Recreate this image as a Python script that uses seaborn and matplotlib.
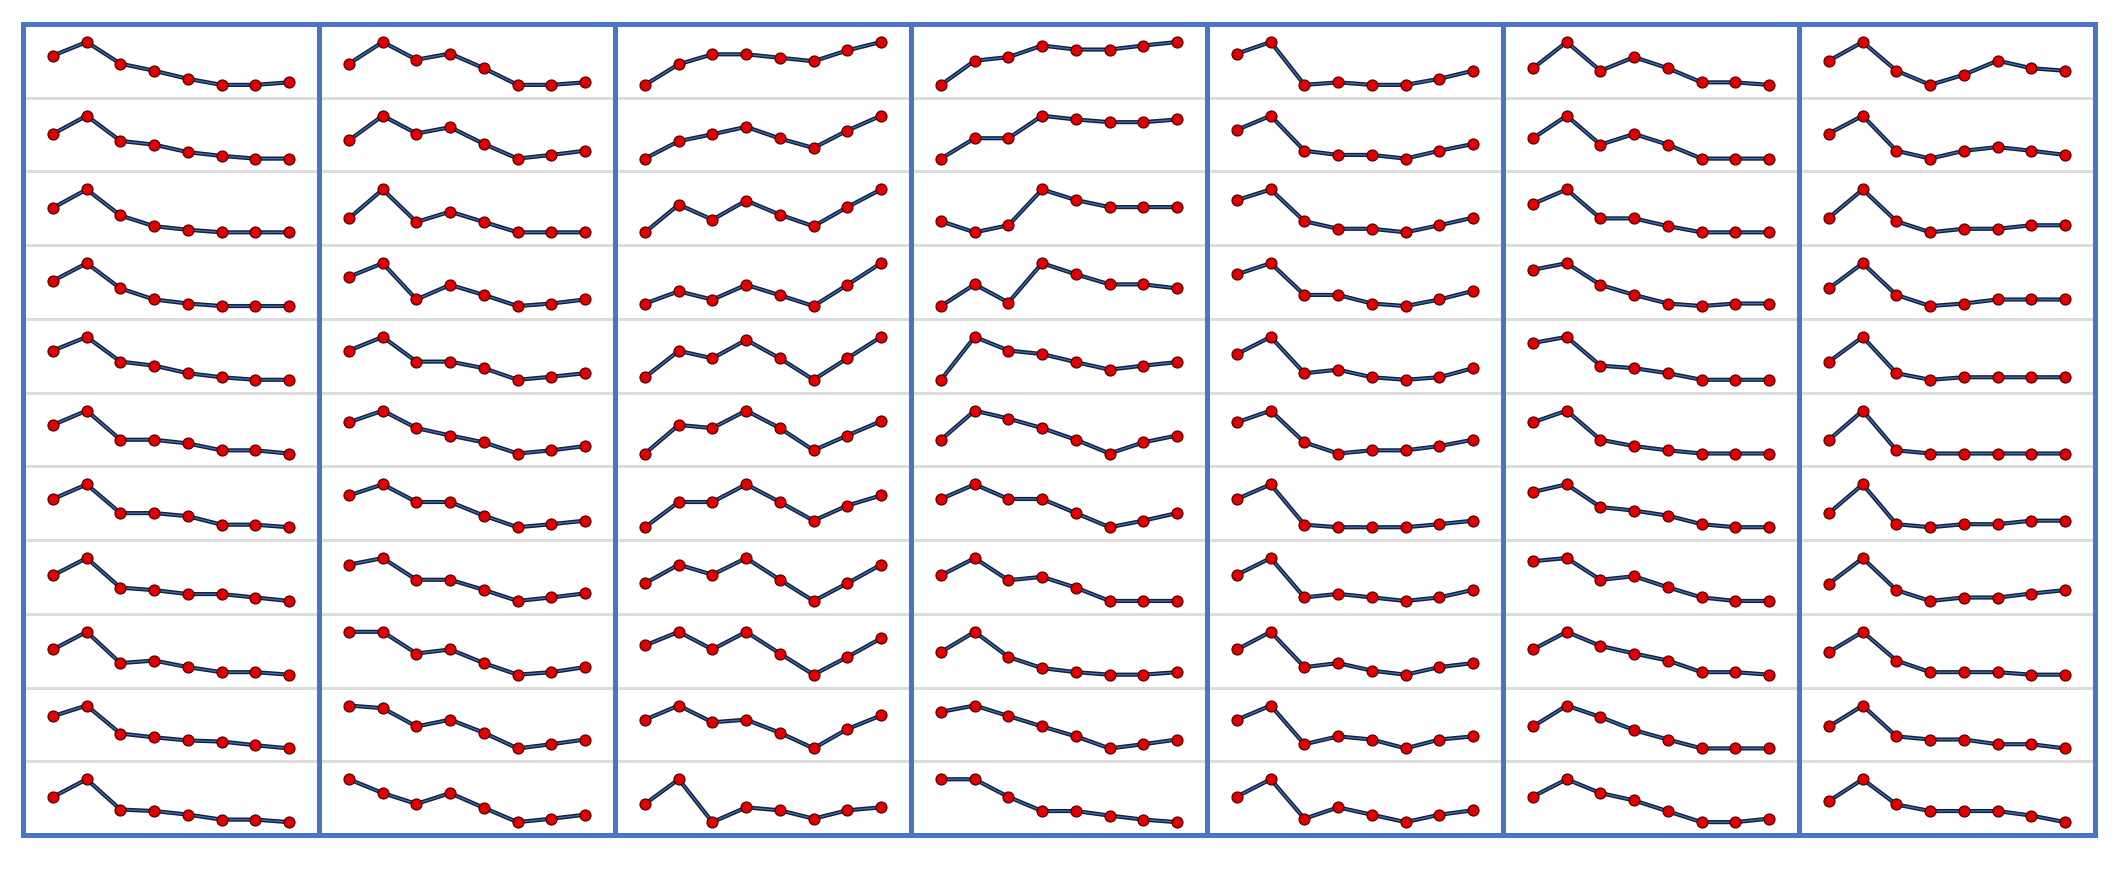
import matplotlib.pyplot as plt
import seaborn as sns

sns.set_theme(style='white')

# ── Data: 7 panels x 11 sparklines x 8 points (relative values) ───────────────
months = [0, 1, 2, 3, 4, 5, 6, 7]

col1 = [
    [58, 85, 42, 28, 12, 0, 0, 5],
    [46, 80, 33, 26, 12, 5, 0, 0],
    [48, 84, 33, 12, 5, 0, 0, 0],
    [50, 85, 35, 13, 5, 0, 0, 0],
    [58, 85, 36, 28, 13, 5, 0, 0],
    [54, 81, 26, 26, 19, 6, 6, 0],
    [56, 85, 28, 28, 22, 5, 5, 0],
    [52, 87, 27, 22, 14, 14, 7, 0],
    [50, 85, 23, 28, 15, 5, 5, 0],
    [61, 81, 28, 21, 15, 13, 6, 0],
    [50, 85, 25, 22, 15, 5, 5, 0],
]
col2 = [
    [42, 85, 50, 62, 33, 0, 0, 5],
    [35, 82, 48, 60, 28, 0, 7, 15],
    [27, 83, 20, 40, 20, 0, 0, 0],
    [58, 85, 13, 42, 22, 0, 5, 13],
    [58, 85, 36, 36, 23, 0, 6, 13],
    [59, 81, 48, 34, 21, 0, 6, 14],
    [63, 85, 50, 50, 23, 0, 6, 13],
    [72, 85, 42, 42, 22, 0, 7, 15],
    [85, 85, 42, 50, 23, 0, 5, 15],
    [82, 77, 42, 55, 30, 0, 8, 17],
    [87, 59, 37, 59, 29, 0, 7, 15],
]
col3 = [
    [0, 42, 62, 62, 55, 48, 70, 87],
    [0, 33, 46, 60, 38, 20, 53, 81],
    [0, 55, 25, 63, 35, 12, 50, 85],
    [5, 30, 13, 43, 22, 0, 43, 87],
    [5, 58, 43, 80, 43, 0, 43, 86],
    [0, 54, 48, 81, 48, 6, 34, 61],
    [0, 50, 50, 85, 50, 13, 43, 63],
    [35, 72, 52, 85, 42, 0, 35, 72],
    [58, 85, 50, 85, 42, 0, 35, 72],
    [55, 82, 50, 55, 30, 0, 37, 63],
    [37, 87, 0, 30, 24, 7, 24, 30],
]
col4 = [
    [0, 48, 55, 78, 70, 70, 78, 85],
    [0, 38, 38, 80, 73, 68, 68, 73],
    [22, 0, 14, 85, 64, 50, 50, 50],
    [0, 43, 7, 85, 63, 43, 43, 35],
    [0, 85, 58, 51, 35, 20, 28, 35],
    [26, 81, 66, 48, 26, 0, 21, 34],
    [56, 85, 56, 56, 28, 0, 13, 28],
    [52, 87, 42, 49, 27, 0, 0, 0],
    [45, 85, 35, 13, 5, 0, 0, 5],
    [70, 82, 62, 42, 23, 0, 8, 17],
    [85, 85, 50, 22, 22, 13, 5, 0],
]
col5 = [
    [62, 85, 0, 5, 0, 0, 12, 28],
    [55, 82, 15, 7, 7, 0, 15, 28],
    [64, 85, 22, 7, 7, 0, 14, 29],
    [63, 85, 22, 22, 5, 0, 13, 30],
    [51, 85, 13, 20, 5, 0, 5, 23],
    [59, 81, 21, 0, 6, 6, 14, 26],
    [56, 85, 5, 0, 0, 0, 6, 13],
    [52, 85, 7, 14, 7, 0, 7, 22],
    [50, 85, 15, 23, 8, 0, 15, 23],
    [55, 82, 8, 23, 17, 0, 17, 23],
    [52, 87, 7, 30, 15, 0, 15, 24],
]
col6 = [
    [33, 85, 28, 55, 33, 5, 5, 0],
    [38, 80, 26, 46, 26, 0, 0, 0],
    [55, 83, 27, 27, 12, 0, 0, 0],
    [72, 85, 42, 22, 5, 0, 5, 5],
    [73, 85, 28, 23, 13, 0, 0, 0],
    [59, 81, 26, 14, 6, 0, 0, 0],
    [70, 85, 40, 33, 23, 6, 0, 0],
    [79, 85, 42, 49, 27, 7, 0, 0],
    [50, 85, 57, 42, 28, 5, 5, 0],
    [42, 82, 60, 35, 17, 0, 0, 0],
    [52, 87, 59, 44, 22, 0, 0, 7],
]
col7 = [
    [48, 85, 28, 0, 20, 48, 33, 28],
    [48, 82, 15, 0, 15, 22, 15, 7],
    [29, 85, 22, 0, 7, 7, 14, 14],
    [35, 85, 22, 0, 5, 13, 13, 13],
    [36, 85, 13, 0, 5, 5, 5, 5],
    [26, 81, 6, 0, 0, 0, 0, 0],
    [28, 85, 6, 0, 6, 6, 13, 13],
    [35, 87, 22, 0, 7, 7, 15, 22],
    [45, 85, 28, 5, 5, 5, 0, 0],
    [42, 82, 23, 17, 17, 8, 8, 0],
    [42, 85, 35, 22, 22, 22, 13, 0],
]
columns = [col1, col2, col3, col4, col5, col6, col7]

# ── Style ─────────────────────────────────────────────────────────────────────
BORDER = '#4a74c8'
LINE_DARK = '#14203a'
LINE_BLUE = '#3f6fbf'
MARKER = '#e10000'
SEP = '#dcdcdc'

W, H = 2120, 873
fig = plt.figure(figsize=(W / 100, H / 100), dpi=100)
fig.patch.set_facecolor('white')

left, right, top, bottom = 23, 2095, 24, 835
col_w = (right - left) / 7
row_h = (bottom - top) / 11

for c, col in enumerate(columns):
    x0 = left + c * col_w
    for r, vals in enumerate(col):
        y0 = top + r * row_h
        ax = fig.add_axes([x0 / W, 1 - (y0 + row_h) / H, col_w / W, row_h / H])
        sns.lineplot(x=months, y=vals, ax=ax, color=LINE_DARK, lw=3.0)
        sns.lineplot(x=months, y=vals, ax=ax, color=LINE_BLUE, lw=0.9)
        sns.scatterplot(x=months, y=vals, ax=ax, color=MARKER, s=62,
                        edgecolor='#5a0000', linewidth=0.9, zorder=3)
        lo, hi = min(vals), max(vals)
        span = hi - lo
        ax.set_ylim(lo - 0.3 * span, hi + 0.42 * span)
        ax.set_xlim(-0.89, 7.89)
        ax.set_axis_off()

    # panel frame with row separators
    fa = fig.add_axes([x0 / W, 1 - bottom / H, col_w / W, (bottom - top) / H])
    fa.patch.set_alpha(0)
    fa.set_xlim(0, 1)
    fa.set_ylim(0, 11)
    for k in range(1, 11):
        fa.axhline(k, color=SEP, lw=2.2, zorder=0)
    fa.set_xticks([])
    fa.set_yticks([])
    for sp in fa.spines.values():
        sp.set_color(BORDER)
        sp.set_linewidth(3.6)

fig.savefig('out.png', dpi=100, facecolor='white')
